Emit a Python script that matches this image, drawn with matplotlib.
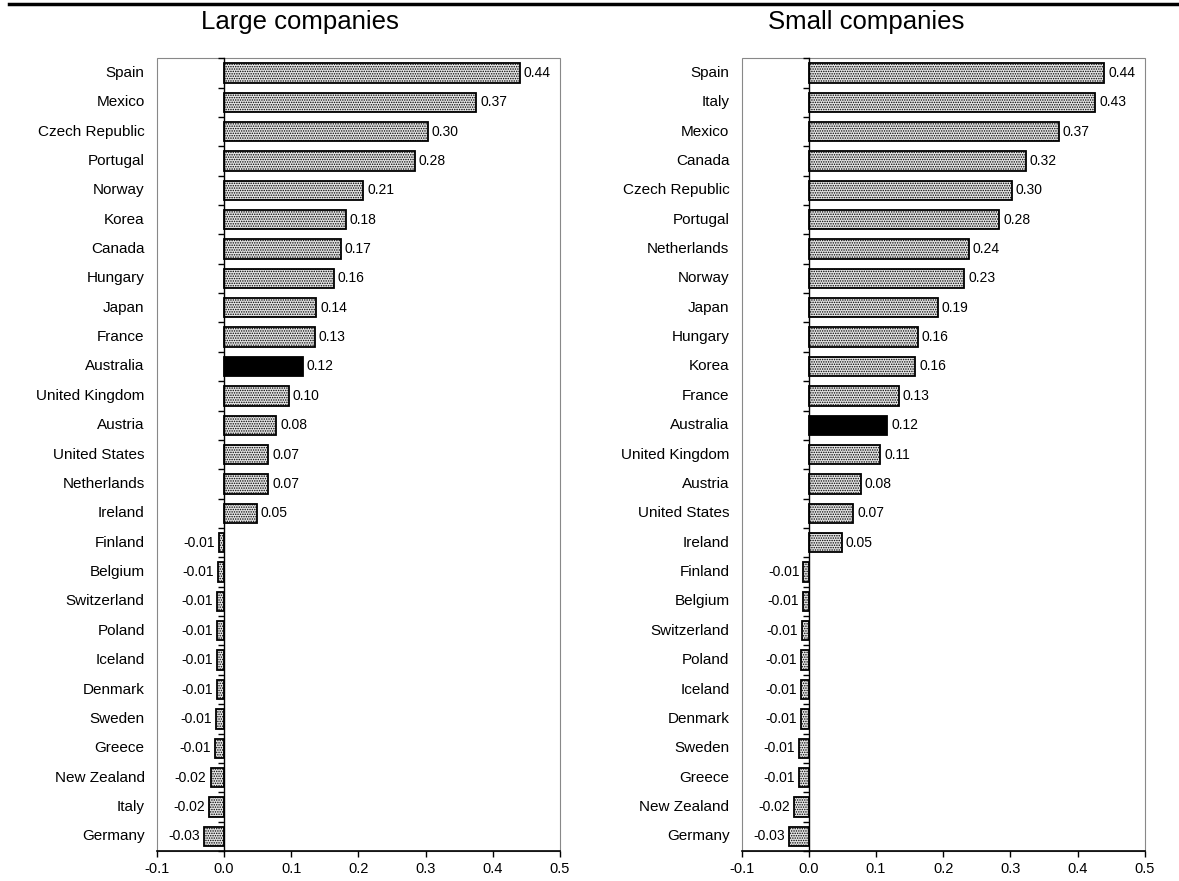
import matplotlib
matplotlib.use('Agg')
import matplotlib.pyplot as plt
from matplotlib.patches import Rectangle
from matplotlib.transforms import blended_transform_factory

plt.rcParams['font.family'] = ['Liberation Sans', 'DejaVu Sans']
plt.rcParams['hatch.linewidth'] = 0.7

large_names = ['Spain', 'Mexico', 'Czech Republic', 'Portugal', 'Norway', 'Korea',
               'Canada', 'Hungary', 'Japan', 'France', 'Australia', 'United Kingdom',
               'Austria', 'United States', 'Netherlands', 'Ireland', 'Finland',
               'Belgium', 'Switzerland', 'Poland', 'Iceland', 'Denmark', 'Sweden',
               'Greece', 'New Zealand', 'Italy', 'Germany']
large_values = [0.440, 0.375, 0.303, 0.284, 0.207, 0.181, 0.174, 0.163, 0.137,
                0.135, 0.117, 0.096, 0.078, 0.066, 0.066, 0.049, -0.008,
                -0.009, -0.010, -0.010, -0.011, -0.011, -0.012, -0.013, -0.020,
                -0.022, -0.030]
large_labels = ['0.44', '0.37', '0.30', '0.28', '0.21', '0.18', '0.17', '0.16',
                '0.14', '0.13', '0.12', '0.10', '0.08', '0.07', '0.07', '0.05',
                '-0.01', '-0.01', '-0.01', '-0.01', '-0.01', '-0.01', '-0.01',
                '-0.01', '-0.02', '-0.02', '-0.03']

small_names = ['Spain', 'Italy', 'Mexico', 'Canada', 'Czech Republic', 'Portugal',
               'Netherlands', 'Norway', 'Japan', 'Hungary', 'Korea', 'France',
               'Australia', 'United Kingdom', 'Austria', 'United States', 'Ireland',
               'Finland', 'Belgium', 'Switzerland', 'Poland', 'Iceland', 'Denmark',
               'Sweden', 'Greece', 'New Zealand', 'Germany']
small_values = [0.440, 0.426, 0.372, 0.323, 0.302, 0.283, 0.238, 0.231, 0.192,
                0.162, 0.158, 0.134, 0.117, 0.106, 0.077, 0.066, 0.049,
                -0.008, -0.009, -0.010, -0.011, -0.011, -0.012, -0.014, -0.015,
                -0.022, -0.030]
small_labels = ['0.44', '0.43', '0.37', '0.32', '0.30', '0.28', '0.24', '0.23',
                '0.19', '0.16', '0.16', '0.13', '0.12', '0.11', '0.08', '0.07',
                '0.05', '-0.01', '-0.01', '-0.01', '-0.01', '-0.01', '-0.01',
                '-0.01', '-0.01', '-0.02', '-0.03']

highlight = 'Australia'
x_ticks = [-0.1, 0.0, 0.1, 0.2, 0.3, 0.4, 0.5]


def draw_panel(ax, names, values, labels):
    n = len(names)
    pos = list(range(n))
    for i in pos:
        if names[i] == highlight:
            ax.barh(i, values[i], height=0.66, color='black', edgecolor='black',
                    linewidth=1.3, zorder=3)
        else:
            ax.barh(i, values[i], height=0.66, color='#e4e4e4', edgecolor='black',
                    hatch='.......', linewidth=1.3, zorder=3)
        if values[i] >= 0:
            ax.text(values[i] + 0.006, i, labels[i], va='center', ha='left',
                    fontsize=10)
        else:
            ax.text(values[i] - 0.006, i, labels[i], va='center', ha='right',
                    fontsize=10)

    ax.set_xlim(-0.1, 0.5)
    ax.set_ylim(n - 0.5, -0.5)
    ax.set_xticks(x_ticks)
    ax.set_xticklabels(['%.1f' % t for t in x_ticks], fontsize=10.5)
    ax.tick_params(axis='x', direction='out', length=4, width=1, pad=4)

    # zero line acts as y axis, ticks between categories
    ax.spines['left'].set_position(('data', 0))
    ax.spines['left'].set_linewidth(1.0)
    ax.spines['left'].set_zorder(4)
    ax.set_yticks([i + 0.5 for i in range(-1, n)])
    ax.set_yticklabels([])
    ax.tick_params(axis='y', direction='out', length=4, width=1)
    for s in ['top', 'right']:
        ax.spines[s].set_visible(False)
    ax.spines['bottom'].set_linewidth(1.2)

    ax.add_patch(Rectangle((0, 0), 1, 1, transform=ax.transAxes, fill=False,
                           edgecolor='#888888', linewidth=0.8, clip_on=False,
                           zorder=1))

    trans = blended_transform_factory(ax.transAxes, ax.transData)
    for i in pos:
        ax.text(-0.03, i, names[i], transform=trans, ha='right', va='center',
                fontsize=11)


fig = plt.figure(figsize=(11.79, 8.81), dpi=100)
ax1 = fig.add_axes([0.133, 0.034, 0.342, 0.900])
ax2 = fig.add_axes([0.629, 0.034, 0.342, 0.900])

draw_panel(ax1, large_names, large_values, large_labels)
draw_panel(ax2, small_names, small_values, small_labels)

fig.text(0.254, 0.975, 'Large companies', ha='center', va='center', fontsize=18.5)
fig.text(0.735, 0.975, 'Small companies', ha='center', va='center', fontsize=18.5)
fig.add_artist(plt.Line2D([0.008, 1.0], [0.996, 0.996], color='black', linewidth=2.5))

fig.savefig('out.png', dpi=100)
